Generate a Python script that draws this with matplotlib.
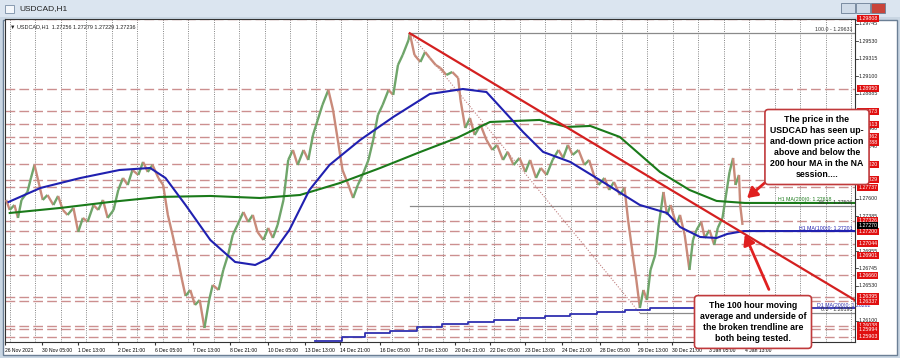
import matplotlib
matplotlib.use("Agg")
import matplotlib.pyplot as plt
from matplotlib.patches import Rectangle
from matplotlib.transforms import blended_transform_factory
import numpy as np

plt.rcParams['font.family'] = ['Liberation Sans', 'DejaVu Sans']

# hourly price path (bar index, price)
bars = [1, 4, 8, 11, 14, 19, 22, 25, 29, 32, 36, 41, 45, 49, 53, 58, 62, 66, 70, 75,
        79, 83, 87, 92, 96, 100, 104, 108, 113, 117, 121, 125, 130, 134, 138, 142, 147, 150, 153, 157,
        161, 165, 169, 173, 176, 181, 185, 189, 193, 197, 202, 206, 210, 214, 219, 223, 227, 231, 236, 240,
        244, 248, 253, 257, 261, 265, 269, 274, 278, 282, 286, 291, 295, 299, 303, 308, 312, 316, 320, 325,
        329, 333, 337, 342, 343, 347, 352, 356, 360, 365, 369, 374, 379, 384, 386, 390, 394, 398, 403, 408,
        413, 417, 422, 426, 431, 436, 441, 445, 450, 454, 459, 464, 469, 473, 477, 481, 486, 491, 495, 499,
        503, 508, 512, 516, 521, 525, 528, 532, 535, 538, 541, 544, 547, 551, 554, 558, 561, 564, 569, 572,
        576, 580, 583, 586, 590, 593, 597, 601, 604, 608, 611, 614, 617, 619, 622, 623, 625]
prices = [1.27583, 1.27460, 1.27521, 1.27362, 1.27583, 1.27681, 1.27853, 1.28013, 1.27767, 1.27583,
          1.27644, 1.27521, 1.27632, 1.27460, 1.27399, 1.27485, 1.27190, 1.27362, 1.27313, 1.27521,
          1.27460, 1.27583, 1.27362, 1.27460, 1.27706, 1.27853, 1.27767, 1.27951, 1.27890, 1.28050,
          1.27927, 1.28013, 1.27853, 1.27767, 1.27399, 1.27153, 1.26821, 1.26600, 1.26403, 1.26477,
          1.26293, 1.26354, 1.26010, 1.26354, 1.26539, 1.26477, 1.26723, 1.26907, 1.27153, 1.27276,
          1.27435, 1.27313, 1.27399, 1.27190, 1.27091, 1.27239, 1.27116, 1.27276, 1.27583, 1.28074,
          1.28197, 1.28013, 1.28197, 1.28074, 1.28381, 1.28566, 1.28750, 1.28934, 1.28688, 1.28320,
          1.27951, 1.27767, 1.27607, 1.27767, 1.27890, 1.28074, 1.28320, 1.28627, 1.28750, 1.28934,
          1.28873, 1.29241, 1.29364, 1.29548, 1.29631, 1.29364, 1.29278, 1.29401, 1.29327, 1.29241,
          1.29204, 1.29118, 1.29155, 1.29082, 1.28811, 1.28467, 1.28590, 1.28381, 1.28504, 1.28320,
          1.28197, 1.28259, 1.28074, 1.28173, 1.28013, 1.28099, 1.27927, 1.28074, 1.27853, 1.27976,
          1.27890, 1.28074, 1.28197, 1.28099, 1.28259, 1.28136, 1.28197, 1.28013, 1.28074, 1.27890,
          1.27767, 1.27853, 1.27706, 1.27804, 1.27644, 1.27730, 1.27337, 1.26907, 1.26600, 1.26256,
          1.26477, 1.26354, 1.26723, 1.26907, 1.27276, 1.27681, 1.27399, 1.27521, 1.27276, 1.27399,
          1.27153, 1.26723, 1.27091, 1.27214, 1.27313, 1.27116, 1.27214, 1.27030, 1.27239, 1.27362,
          1.27644, 1.27927, 1.28099, 1.27767, 1.27890, 1.27521, 1.27276]

# H1 MA(200) green, H1 MA(100) blue
ma200_x = [4, 47, 89, 131, 174, 216, 250, 284, 318, 352, 383, 411, 453, 476, 496, 521, 555, 580, 603, 627, 720]
ma200_y = [1.27423, 1.27485, 1.27558, 1.27620, 1.27632, 1.27607, 1.27644, 1.27792, 1.27976, 1.28173,
           1.28345, 1.28541, 1.28566, 1.28480, 1.28492, 1.28357, 1.27927, 1.27706, 1.27571, 1.27546, 1.27546]
ma100_x = [3, 30, 64, 97, 123, 136, 153, 174, 195, 212, 224, 241, 258, 275, 301, 329, 360, 388, 408, 422,
           439, 456, 479, 504, 538, 561, 572, 589, 603, 612, 626, 720]
ma100_y = [1.27558, 1.27730, 1.27853, 1.27951, 1.27976, 1.27853, 1.27521, 1.27091, 1.26821, 1.26784,
           1.26870, 1.27214, 1.27706, 1.28013, 1.28320, 1.28602, 1.28885, 1.28946, 1.28909, 1.28688,
           1.28418, 1.28173, 1.28050, 1.27828, 1.27521, 1.27423, 1.27251, 1.27128, 1.27116, 1.27165, 1.27201, 1.27201]
# D1 MA(200) step line
d1_x = [263, 286, 305, 326, 349, 370, 392, 414, 435, 458, 479, 502, 525, 547, 720]
d1_y = [1.25851, 1.25900, 1.25949, 1.25974, 1.26023, 1.26060, 1.26084, 1.26109, 1.26134, 1.26158,
        1.26183, 1.26207, 1.26232, 1.26256, 1.26256]

# trendline and fibonacci retracement
trend_x = [343, 720]
trend_y = [1.29631, 1.26354]
fib_x = [343, 538]
fib_y = [1.29631, 1.26193]
fib_levels = [1.29631, 1.27506, 1.26193]
fib_names = ['100.0 - 1.29631', '38.2 - 1.27506', '0.0 - 1.26193']
fib_start = [343, 343, 538]

red_levels = [1.29808, 1.28950, 1.28673, 1.28513, 1.28362, 1.28288, 1.28020, 1.27829, 1.27737,
              1.27326, 1.27200, 1.27044, 1.26901, 1.26660, 1.26395, 1.26337, 1.26038, 1.25994, 1.25903]
axis_ticks = [1.29745, 1.29530, 1.29315, 1.29100, 1.28885, 1.28460, 1.28240, 1.27600, 1.27385,
              1.26955, 1.26745, 1.26530, 1.26100]
last_price = 1.27270

tick_pos = [0, 31, 62, 96, 127, 159, 191, 223, 254, 284, 318, 350, 381, 411, 441, 472, 504, 536, 565, 597, 627]
tick_labels = ['26 Nov 2021', '30 Nov 05:00', '1 Dec 13:00', '2 Dec 21:00', '6 Dec 05:00', '7 Dec 13:00',
               '8 Dec 21:00', '10 Dec 05:00', '13 Dec 13:00', '14 Dec 21:00', '16 Dec 05:00', '17 Dec 13:00',
               '20 Dec 21:00', '22 Dec 05:00', '23 Dec 13:00', '24 Dec 21:00', '28 Dec 05:00', '29 Dec 13:00',
               '30 Dec 21:00', '3 Jan 05:00', '4 Jan 13:00']

W, H = 900, 358
fig = plt.figure(figsize=(9, 3.58), dpi=100)
fig.patch.set_facecolor('#c9d6e3')

def px(x, y):
    return x / W, 1 - y / H

# window chrome (behind the axes)
fig.patches.append(Rectangle((0, 1 - 17 / H), 1, 17 / H, transform=fig.transFigure,
                             facecolor='#dbe5f0', edgecolor='none', zorder=-5))
fig.patches.append(Rectangle((3 / W, 3 / H), 894 / W, 335 / H, transform=fig.transFigure,
                             facecolor='white', edgecolor='#6b7f95', lw=1, zorder=-5))
fig.text(*px(19, 9), 'USDCAD,H1', fontsize=6, va='center', color='#222222')
fig.patches.append(Rectangle(px(5, 13), 9 / W, 8 / H, transform=fig.transFigure,
                             facecolor='#f4f7fb', edgecolor='#7a8ea5', lw=0.6, zorder=-4))
for bx, bc in [(841, '#cfdbe8'), (856, '#cfdbe8'), (871, '#c9443a')]:
    fig.patches.append(Rectangle(px(bx, 13), 14 / W, 10 / H, transform=fig.transFigure,
                                 facecolor=bc, edgecolor='#6b7f95', lw=0.6, zorder=-4))

ax = fig.add_axes([5 / W, (358 - 342) / H, 850 / W, 323 / H])
ax.set_xlim(0, 720.3)
ax.set_ylim(1.25838, 1.29806)
for s in ax.spines.values():
    s.set_color('#333333')
    s.set_linewidth(0.8)

# vertical dotted grid
for gx in np.arange(4.2, 720, 21.6):
    ax.axvline(gx, color='#777777', ls=(0, (1.2, 1.5)), lw=0.6, zorder=1)

for lv in red_levels:
    ax.axhline(lv, color='#cc8f8f', ls=(0, (7, 3)), lw=1.0, zorder=1)

for lv, nm, st in zip(fib_levels, fib_names, fib_start):
    ax.plot([st, 720.3], [lv, lv], color='#8a8a8a', lw=0.9, zorder=2)
    ax.text(718, lv + 0.00012, nm, fontsize=3.8, ha='right', va='bottom', color='#333333', zorder=6)
ax.plot(fib_x, fib_y, color='#c08080', ls=(0, (1, 1.5)), lw=0.8, zorder=2)

# price path
for i in range(len(bars) - 1):
    c = '#6fa56a' if prices[i + 1] >= prices[i] else '#c98a7a'
    ax.plot(bars[i:i + 2], prices[i:i + 2], color=c, lw=1.7, zorder=3, solid_capstyle='butt')

ax.plot(ma200_x, ma200_y, color='#1a7a1a', lw=1.5, zorder=4)
ax.plot(ma100_x, ma100_y, color='#2020b0', lw=1.5, zorder=4)
ax.step(d1_x, d1_y, where='post', color='#3030b0', lw=1.3, zorder=4)
ax.plot(trend_x, trend_y, color='#d42020', lw=1.6, zorder=5)

ax.text(700, ma200_y[-1] + 0.00006, 'H1 MA(200)0: 1.27618', fontsize=3.8, color='#1a7a1a', ha='right', va='bottom', zorder=6)
ax.text(718, ma100_y[-1] + 0.00005, 'H1 MA(100)0: 1.27201', fontsize=3.8, color='#2020b0', ha='right', va='bottom', zorder=6)
ax.text(688, d1_y[-1] + 0.00005, 'D1 MA(200)0: 1.26262', fontsize=3.8, color='#3030b0', ha='left', va='bottom', zorder=6)

ax.text(0.006, 0.985, '\u25bc USDCAD,H1  1.27256 1.27279 1.27229 1.27236', transform=ax.transAxes,
        fontsize=4, va='top', color='#222222')

# x ticks
ax.set_xticks(tick_pos)
ax.set_xticklabels(tick_labels, fontsize=3.6, ha='left')
ax.tick_params(axis='x', length=2, pad=2, color='#333333')
ax.set_yticks([])

# right price scale
tr = blended_transform_factory(ax.transAxes, ax.transData)
for t in axis_ticks:
    ax.text(1.004, t, '%.5f' % t, transform=tr, fontsize=3.8, va='center', ha='left', color='#222222', clip_on=False)
    ax.plot([1.0, 1.003], [t, t], transform=tr, color='#333333', lw=0.6, clip_on=False)
for lv in red_levels:
    ax.text(1.004, lv, '%.5f' % lv, transform=tr, fontsize=3.8, va='center', ha='left', color='white',
            clip_on=False, zorder=10, bbox=dict(boxstyle='square,pad=0.2', fc='#e01010', ec='none'))
ax.text(1.004, last_price, '%.5f' % last_price, transform=tr, fontsize=3.8, va='center', ha='left',
        color='white', clip_on=False, zorder=11, bbox=dict(boxstyle='square,pad=0.2', fc='black', ec='none'))

# callouts
box = dict(boxstyle='round,pad=0.6,rounding_size=0.4', fc='white', ec='#c0393b', lw=1.2)
fig.text(*px(817, 147), 'The price in the\nUSDCAD has seen up-\nand-down price action\nabove and below the\n200 hour MA in the NA\nsession....',
         fontsize=6.3, fontweight='bold', ha='center', va='center', linespacing=1.3, bbox=box, zorder=20)
fig.text(*px(753, 322), 'The 100 hour moving\naverage and underside of\nthe broken trendline are\nboth being tested.',
         fontsize=6.3, fontweight='bold', ha='center', va='center', linespacing=1.3, bbox=box, zorder=20)

arrow = dict(arrowstyle='-|>,head_length=0.6,head_width=0.35', color='#e02020', lw=2)
ax.annotate('', xy=(627, 1.27583), xytext=(775, 358 - 174), textcoords='figure pixels', arrowprops=arrow, zorder=15)
ax.annotate('', xy=(626, 1.27190), xytext=(770, 358 - 292), textcoords='figure pixels', arrowprops=arrow, zorder=15)

fig.savefig('out.png', dpi=100, facecolor=fig.get_facecolor())
